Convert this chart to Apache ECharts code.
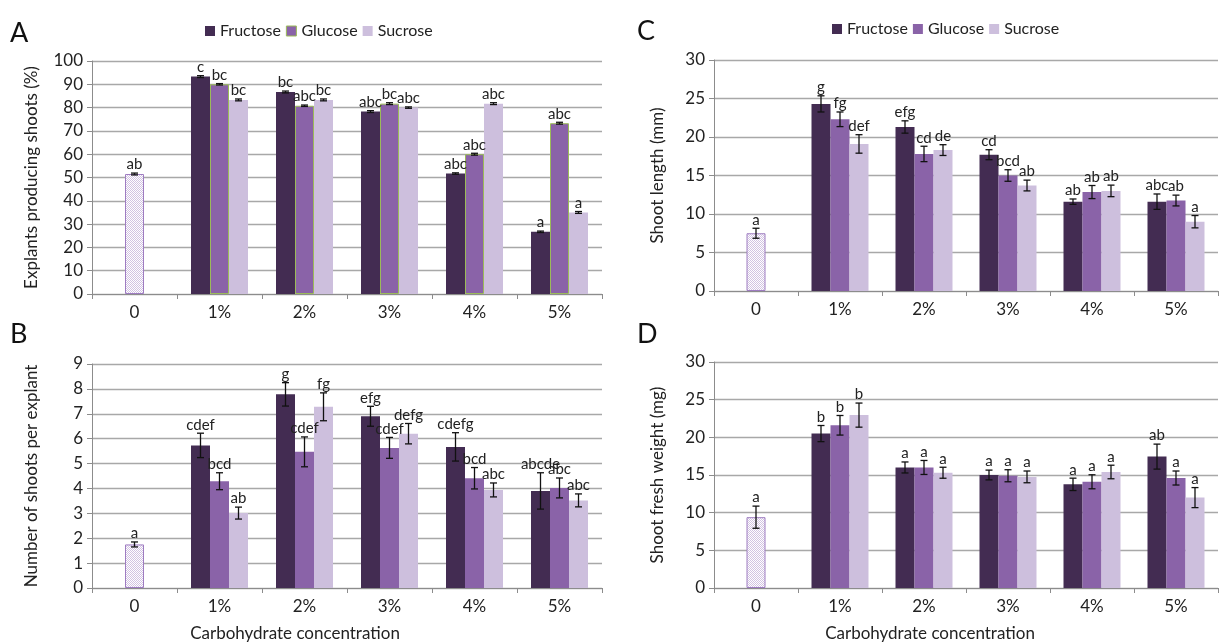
<!DOCTYPE html>
<html><head><meta charset="utf-8">
<script src="https://cdn.jsdelivr.net/npm/echarts@6/dist/echarts.min.js"></script>
<style>html,body{margin:0;padding:0;background:#fff}#c{width:1219px;height:643px}</style>
</head><body><div id="c"></div>
<script>
// ---------- DATA ----------
const categories = ['0', '1%', '2%', '3%', '4%', '5%'];
const seriesNames = ['Fructose', 'Glucose', 'Sucrose'];

// Panel A: Explants producing shoots (%)
const aControl = 51.5, aControlErr = 0.4, aControlLetter = 'ab';
const aFructose = [93.3, 86.7, 78.3, 51.7, 26.7];
const aGlucose  = [90.0, 80.8, 81.7, 60.0, 73.3];
const aSucrose  = [83.3, 83.3, 80.0, 81.7, 35.0];
const aFructoseErr = [0.4, 0.4, 0.4, 0.3, 0.3];
const aGlucoseErr  = [0.3, 0.3, 0.4, 0.4, 0.4];
const aSucroseErr  = [0.4, 0.4, 0.3, 0.4, 0.4];
const aFructoseLetters = ['c', 'bc', 'abc', 'abc', 'a'];
const aGlucoseLetters  = ['bc', 'abc', 'bc', 'abc', 'abc'];
const aSucroseLetters  = ['bc', 'bc', 'abc', 'abc', 'a'];
const aTicks = {min: 0, max: 100, interval: 10};

// Panel B: Number of shoots per explant
const bControl = 1.75, bControlErr = 0.1, bControlLetter = 'a';
const bFructose = [5.73, 7.78, 6.90, 5.67, 3.90];
const bGlucose  = [4.29, 5.47, 5.63, 4.41, 4.02];
const bSucrose  = [3.01, 7.28, 6.20, 3.94, 3.52];
const bFructoseErr = [0.49, 0.47, 0.40, 0.57, 0.73];
const bGlucoseErr  = [0.34, 0.60, 0.42, 0.43, 0.40];
const bSucroseErr  = [0.24, 0.56, 0.41, 0.28, 0.26];
const bFructoseLetters = ['cdef', 'g', 'efg', 'cdefg', 'abcde'];
const bGlucoseLetters  = ['bcd', 'cdef', 'cdef', 'bcd', 'abc'];
const bSucroseLetters  = ['ab', 'fg', 'defg', 'abc', 'abc'];
const bTicks = {min: 0, max: 9, interval: 1};

// Panel C: Shoot length (mm)
const cControl = 7.5, cControlErr = 0.65, cControlLetter = 'a';
const cFructose = [24.3, 21.3, 17.7, 11.6, 11.6];
const cGlucose  = [22.3, 17.8, 15.0, 12.85, 11.75];
const cSucrose  = [19.1, 18.3, 13.7, 13.0, 9.0];
const cFructoseErr = [1.05, 0.8, 0.65, 0.35, 1.0];
const cGlucoseErr  = [0.95, 1.0, 0.75, 0.85, 0.7];
const cSucroseErr  = [1.2, 0.7, 0.7, 0.75, 0.8];
const cFructoseLetters = ['g', 'efg', 'cd', 'ab', 'abc'];
const cGlucoseLetters  = ['fg', 'cd', 'bcd', 'ab', 'ab'];
const cSucroseLetters  = ['def', 'de', 'ab', 'ab', 'a'];
const cTicks = {min: 0, max: 30, interval: 5};

// Panel D: Shoot fresh weight (mg)
const dControl = 9.4, dControlErr = 1.47, dControlLetter = 'a';
const dFructose = [20.5, 16.0, 15.0, 13.76, 17.44];
const dGlucose  = [21.6, 16.0, 14.9, 14.1, 14.6];
const dSucrose  = [22.95, 15.3, 14.75, 15.4, 12.0];
const dFructoseErr = [1.07, 0.73, 0.65, 0.82, 1.66];
const dGlucoseErr  = [1.3, 0.93, 0.8, 0.93, 0.93];
const dSucroseErr  = [1.6, 0.73, 0.78, 0.9, 1.33];
const dFructoseLetters = ['b', 'a', 'a', 'a', 'ab'];
const dGlucoseLetters  = ['b', 'a', 'a', 'a', 'a'];
const dSucroseLetters  = ['b', 'a', 'a', 'a', 'a'];
const dTicks = {min: 0, max: 30, interval: 5};

const yTitles = ['Explants producing shoots (%)', 'Number of shoots per explant', 'Shoot length (mm)', 'Shoot fresh weight (mg)'];
const xTitle = 'Carbohydrate concentration';
const panelLetters = ['A', 'B', 'C', 'D'];

// ---------- BUILD ----------
const FONT = 'Lato, "Open Sans", sans-serif';
const colors = ['#432C52', '#8A63A8', '#CDBFDD'];
const BAR_W = 19;

const panels = [
  {control: aControl, cErr: aControlErr, cLet: aControlLetter, vals: [aFructose, aGlucose, aSucrose], errs: [aFructoseErr, aGlucoseErr, aSucroseErr], lets: [aFructoseLetters, aGlucoseLetters, aSucroseLetters], ticks: aTicks, grid: {left: 92, top: 61, width: 510, height: 233}, nameGap: 52, greenGlucose: true},
  {control: bControl, cErr: bControlErr, cLet: bControlLetter, vals: [bFructose, bGlucose, bSucrose], errs: [bFructoseErr, bGlucoseErr, bSucroseErr], lets: [bFructoseLetters, bGlucoseLetters, bSucroseLetters], ticks: bTicks, grid: {left: 92, top: 364, width: 510, height: 224}, nameGap: 52},
  {control: cControl, cErr: cControlErr, cLet: cControlLetter, vals: [cFructose, cGlucose, cSucrose], errs: [cFructoseErr, cGlucoseErr, cSucroseErr], lets: [cFructoseLetters, cGlucoseLetters, cSucroseLetters], ticks: cTicks, grid: {left: 714, top: 60, width: 504, height: 231}, nameGap: 48},
  {control: dControl, cErr: dControlErr, cLet: dControlLetter, vals: [dFructose, dGlucose, dSucrose], errs: [dFructoseErr, dGlucoseErr, dSucroseErr], lets: [dFructoseLetters, dGlucoseLetters, dSucroseLetters], ticks: dTicks, grid: {left: 714, top: 362, width: 504, height: 226}, nameGap: 48}
];

// dotted pattern for the control bar
const pc = document.createElement('canvas');
pc.width = 2; pc.height = 2;
const pctx = pc.getContext('2d');
pctx.fillStyle = '#ffffff'; pctx.fillRect(0, 0, 2, 2);
pctx.fillStyle = '#D2C3E2'; pctx.fillRect(0, 0, 1, 1); pctx.fillRect(1, 1, 1, 1);

const grids = [], xAxes = [], yAxes = [], series = [];
const axisGray = '#8C8C8C';

panels.forEach((p, i) => {
  grids.push(Object.assign({}, p.grid));
  xAxes.push({
    type: 'category', gridIndex: i, data: categories,
    axisLine: {lineStyle: {color: axisGray, width: 1}},
    axisTick: {show: true, length: 5, lineStyle: {color: axisGray}},
    axisLabel: {fontSize: 17, color: '#222', margin: 10, fontFamily: FONT}
  });
  xAxes.push({type: 'category', gridIndex: i, data: categories, show: false});
  yAxes.push({
    type: 'value', gridIndex: i, min: p.ticks.min, max: p.ticks.max, interval: p.ticks.interval,
    axisLine: {show: true, lineStyle: {color: axisGray, width: 1}},
    axisTick: {show: true, length: 5, lineStyle: {color: axisGray}},
    splitLine: {lineStyle: {color: '#A8A8A8', width: 1.3}},
    axisLabel: {fontSize: 17, color: '#222', margin: 9, fontFamily: FONT},
    name: yTitles[i], nameLocation: 'middle', nameGap: p.nameGap,
    nameTextStyle: {fontSize: 17, color: '#222', fontFamily: FONT}
  });

  // control bar on hidden axis
  series.push({
    type: 'bar', name: 'Control', xAxisIndex: 2 * i + 1, yAxisIndex: i, barWidth: BAR_W,
    data: [p.control, '-', '-', '-', '-', '-'],
    itemStyle: {color: {image: pc, repeat: 'repeat'}, borderColor: '#9E7CC1', borderWidth: 1},
    silent: true
  });
  // main bars
  for (let s = 0; s < 3; s++) {
    const it = {color: colors[s]};
    if (p.greenGlucose && s === 1) { it.borderColor = '#9BBB59'; it.borderWidth = 1; }
    series.push({
      type: 'bar', name: seriesNames[s], xAxisIndex: 2 * i, yAxisIndex: i,
      barWidth: BAR_W, barGap: '0%',
      data: ['-'].concat(p.vals[s]), itemStyle: it
    });
  }
  // error bars + letters
  const errData = [[0, 1, p.control, p.cErr]];
  const letters = [p.cLet];
  for (let s = 0; s < 3; s++) {
    for (let k = 0; k < 5; k++) {
      errData.push([k + 1, s, p.vals[s][k], p.errs[s][k]]);
      letters.push(p.lets[s][k]);
    }
  }
  series.push({
    type: 'custom', name: 'err' + i, xAxisIndex: 2 * i, yAxisIndex: i, clip: false, silent: true, z: 5,
    data: errData,
    renderItem: function (params, api) {
      const cat = api.value(0), slot = api.value(1), v = api.value(2), e = api.value(3);
      const top = api.coord([cat, v + e]);
      const bot = api.coord([cat, v - e]);
      const x = top[0] + (slot - 1) * BAR_W;
      const cap = 3.5;
      const st = {stroke: '#111', lineWidth: 1.3};
      return {
        type: 'group', children: [
          {type: 'line', shape: {x1: x, y1: top[1], x2: x, y2: bot[1]}, style: st},
          {type: 'line', shape: {x1: x - cap, y1: top[1], x2: x + cap, y2: top[1]}, style: st},
          {type: 'line', shape: {x1: x - cap, y1: bot[1], x2: x + cap, y2: bot[1]}, style: st},
          {type: 'text', style: {text: letters[params.dataIndex], x: x, y: top[1] - 1, align: 'center', verticalAlign: 'bottom', fill: '#222', font: '15px ' + FONT}}
        ]
      };
    }
  });
});

const legendText = {fontSize: 16, color: '#222', fontFamily: FONT};
const option = {
  animation: false,
  backgroundColor: '#fff',
  grid: grids, xAxis: xAxes, yAxis: yAxes, series: series,
  legend: [
    {left: 205, top: 23, itemWidth: 10, itemHeight: 10, itemGap: 5, padding: 0, icon: 'rect', textStyle: legendText,
     data: [{name: 'Fructose'}, {name: 'Glucose', itemStyle: {borderColor: '#9BBB59', borderWidth: 1}}, {name: 'Sucrose'}], selectedMode: false},
    {left: 832, top: 21, itemWidth: 10, itemHeight: 10, itemGap: 5, padding: 0, icon: 'rect', textStyle: legendText,
     data: [{name: 'Fructose'}, {name: 'Glucose', itemStyle: {borderWidth: 0}}, {name: 'Sucrose'}], selectedMode: false}
  ],
  graphic: [
    {type: 'text', left: 10, top: 20, style: {text: panelLetters[0], font: '27px ' + FONT, fill: '#111'}},
    {type: 'text', left: 10, top: 321, style: {text: panelLetters[1], font: '27px ' + FONT, fill: '#111'}},
    {type: 'text', left: 637, top: 18, style: {text: panelLetters[2], font: '27px ' + FONT, fill: '#111'}},
    {type: 'text', left: 637, top: 321, style: {text: panelLetters[3], font: '27px ' + FONT, fill: '#111'}},
    {type: 'text', x: 295, y: 634, style: {text: xTitle, font: '17px ' + FONT, fill: '#222', align: 'center', verticalAlign: 'middle'}},
    {type: 'text', x: 930, y: 634, style: {text: xTitle, font: '17px ' + FONT, fill: '#222', align: 'center', verticalAlign: 'middle'}}
  ]
};
const chart = echarts.init(document.getElementById('c'), null, {renderer: 'canvas'});
chart.setOption(option);
</script>
</body></html>
